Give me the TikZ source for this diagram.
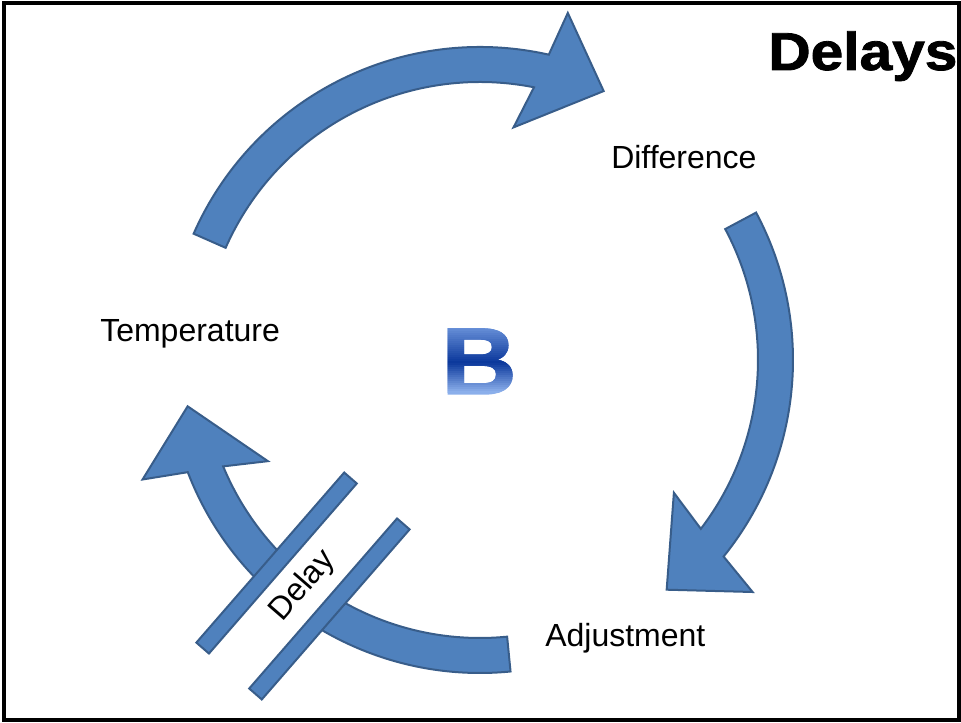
\documentclass[tikz,border=0pt]{standalone}
\usepackage{fontspec}
\setmainfont{Liberation Sans}
\newfontfamily\negra{Liberation Sans}[FakeBold=1.5]
\definecolor{relleno}{RGB}{79,129,189}
\definecolor{borde}{RGB}{56,93,138}
\definecolor{bsup}{RGB}{110,150,220}
\definecolor{bmed}{RGB}{10,55,155}
\definecolor{binf}{RGB}{145,180,238}
\begin{document}
\begin{tikzpicture}[x=0.75pt,y=0.75pt,
    flecha/.style={fill=relleno,draw=borde,line width=1.5pt},
    barra/.style={rectangle,fill=relleno,draw=borde,line width=1.5pt,
      minimum width=169pt,minimum height=12.5pt,inner sep=0pt,outer sep=0pt},
    etiqueta/.style={font=\fontsize{24}{28}\selectfont,inner sep=0pt},
    letra/.style={font=\negra\bfseries\fontsize{71}{80}\selectfont,
      inner sep=0pt,anchor=base,xscale=1.1}]
    \useasboundingbox (0,0) rectangle (961,722);
    % Marco
    \draw[line width=3pt] (3.5,2.5) rectangle (959,719);

    % Flechas
    \begin{scope}[shift={(480,362)}]
        \draw[flecha] (156.2:278) arc[start angle=156.2,end angle=78.8,radius=278]
            -- (81.8:235) -- (65.3:296) -- (75.8:358) -- (77.3:313)
            arc[start angle=77.3,end angle=156.2,radius=313] -- cycle;
        \draw[flecha] (28.1:278) arc[start angle=28.1,end angle=-37.4,radius=278]
            -- (-34.4:235) -- (-50.9:296) -- (-40.4:358) -- (-38.9:313)
            arc[start angle=-38.9,end angle=28.1,radius=313] -- cycle;
        \draw[flecha] (-84.4:278) arc[start angle=-84.4,end angle=-157.5,radius=278]
            -- (-154.5:235) -- (-171:296) -- (-160.5:358) -- (-159:313)
            arc[start angle=-159,end angle=-84.4,radius=313] -- cycle;
    \end{scope}

    % Textos
    \node[etiqueta,anchor=base west] (temperatura) at (100,380) {Temperature};
    \node[etiqueta,anchor=base west] (diferencia) at (611,553) {Difference};
    \node[etiqueta,anchor=base west] (ajuste) at (545,76) {Adjustment};
    \node[anchor=base west,inner sep=0pt,xscale=1.1,
      font=\negra\bfseries\fontsize{40}{48}\selectfont] (titulo) at (768,652) {Delays};

    % Letra B con degradado
    \foreach \i in {0,...,33}{
        \pgfmathsetmacro{\t}{(\i+0.5)/34}
        \pgfmathtruncatemacro{\q}{\t<0.55 ? 100*\t/0.55 : 100*(\t-0.55)/0.45}
        \ifdim\t pt<0.55pt \colorlet{tono}{bmed!\q!bsup}\else\colorlet{tono}{binf!\q!bmed}\fi
        \begin{scope}
            \clip (430,{\i==0 ? 410 : 396.3-2*\i}) rectangle (530,{\i==33 ? 310 : 393.7-2*\i});
            \node[letra,text=tono] (letraB) at (479,328) {B};
        \end{scope}
    }

    % Retraso
    \node[etiqueta,rotate=49,fill=white,minimum width=169pt,minimum height=40pt,
      outer sep=0pt] (retraso) at (303,136) {Delay};
    \node[barra,rotate=49,anchor=south] (barra1) at (retraso.north) {};
    \node[barra,rotate=49,anchor=north] (barra2) at (retraso.south) {};
\end{tikzpicture}
\end{document}
